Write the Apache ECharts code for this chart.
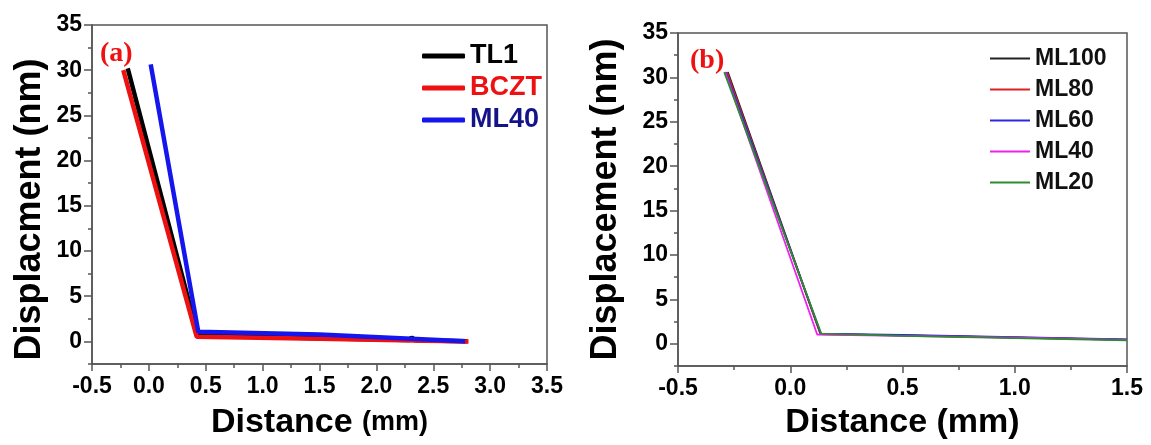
<!DOCTYPE html>
<html>
<head>
<meta charset="utf-8">
</head>
<body style="margin: 0; background: #fff">
<div id="container" style="width: 1151px; height: 445px"></div>
<script src="https://cdn.jsdelivr.net/npm/echarts@6/dist/echarts.min.js"></script>
<script>
// panel (a): distance (mm), displacement (nm)
const tl1 = [[-0.186, 30.2], [0.43, 0.65], [1.5, 0.35], [2.29, 0.15], [2.31, 0.45], [2.34, 0.12], [2.8, 0.02]];
const bczt = [[-0.225, 30.0], [0.42, 0.52], [1.5, 0.3], [2.81, 0.0]];
const ml40a = [[0.016, 30.65], [0.434, 1.07], [1.5, 0.75], [2.78, 0.03]];

// panel (b)
const ml100 = [[-0.278, 30.6], [0.135, 1.1], [0.5, 0.95], [1.0, 0.7], [1.5, 0.45]];
const ml80 = [[-0.282, 30.6], [0.134, 1.1], [0.5, 0.95], [1.0, 0.72], [1.5, 0.47]];
const ml60 = [[-0.287, 30.6], [0.136, 1.15], [0.5, 1.0], [1.0, 0.75], [1.5, 0.5]];
const ml40b = [[-0.29, 30.6], [0.12, 1.05], [0.5, 0.9], [1.0, 0.7], [1.5, 0.45]];
const ml20 = [[-0.294, 30.6], [0.138, 1.15], [0.5, 0.9], [1.0, 0.65], [1.5, 0.4]];

const yTicks = [0, 5, 10, 15, 20, 25, 30, 35];
const yMinorTicks = [-2.5, 2.5, 7.5, 12.5, 17.5, 22.5, 27.5, 32.5];

const axisColor = '#555';
const font = "'Liberation Sans', Arial, sans-serif";

var chartDom = document.getElementById('container');
var myChart = echarts.init(chartDom, null, { renderer: 'canvas' });

function xAxisOf(grid, max, gap, name, rich) {
	return {
		type: 'value', gridIndex: grid, min: -0.5, max: max, interval: 0.5,
		name: name, nameLocation: 'middle', nameGap: gap,
		nameTextStyle: { fontFamily: font, fontWeight: 'bold', fontSize: 34, color: '#000', rich: rich },
		axisLine: { onZero: false, lineStyle: { color: axisColor, width: 1.5 } },
		axisTick: { inside: false, length: 7, lineStyle: { color: axisColor, width: 1.5 } },
		minorTick: { show: true, splitNumber: 2, length: 4, lineStyle: { color: axisColor, width: 1.5 } },
		splitLine: { show: false },
		axisLabel: {
			margin: 11, fontFamily: font, fontWeight: 'bold', fontSize: 23, color: '#000',
			formatter: v => v.toFixed(1)
		}
	};
}

function yAxesOf(grid, gap, name, pad) {
	return [{
		type: 'value', gridIndex: grid, min: -2.5, max: 35, position: 'left',
		name: name, nameLocation: 'middle', nameGap: gap, nameRotate: 90,
		nameTextStyle: { fontFamily: font, fontWeight: 'bold', fontSize: 36, color: '#000', padding: pad },
		axisLine: { onZero: false, lineStyle: { color: axisColor, width: 1.5 } },
		axisTick: { length: 8, customValues: yTicks, lineStyle: { color: axisColor, width: 1.5 } },
		splitLine: { show: false },
		axisLabel: {
			margin: 10, fontFamily: font, fontWeight: 'bold', fontSize: 23, color: '#000',
			customValues: yTicks
		}
	}, {
		type: 'value', gridIndex: grid, min: -2.5, max: 35, position: 'left',
		axisLine: { show: false, onZero: false },
		axisTick: { length: 4, customValues: yMinorTicks, lineStyle: { color: axisColor, width: 1.5 } },
		axisLabel: { show: false },
		splitLine: { show: false }
	}];
}

function lineOf(name, data, color, width, x, y) {
	return {
		name: name, type: 'line', data: data, xAxisIndex: x, yAxisIndex: y,
		symbol: 'none', animation: false,
		lineStyle: { color: color, width: width },
		itemStyle: { color: color }
	};
}

var option = {
	backgroundColor: '#fff',
	animation: false,
	title: [{
		text: '(a)', left: 100, top: 40, padding: 0,
		textStyle: { fontFamily: "'Liberation Serif', serif", fontWeight: 'bold', fontSize: 28, color: '#ee1111' }
	}, {
		text: '(b)', left: 690, top: 47, padding: 0,
		textStyle: { fontFamily: "'Liberation Serif', serif", fontWeight: 'bold', fontSize: 28, color: '#ee1111' }
	}],
	grid: [
		{ left: 92, top: 25, width: 455, height: 339, show: true, borderColor: axisColor, borderWidth: 1.5 },
		{ left: 678, top: 33, width: 449, height: 335, show: true, borderColor: axisColor, borderWidth: 1.5 }
	],
	xAxis: [
		xAxisOf(0, 3.5, 42, 'Distance {s|(mm)}', { s: { fontFamily: font, fontWeight: 'bold', fontSize: 27, color: '#000' } }),
		xAxisOf(1, 1.5, 40, 'Distance (mm)', undefined)
	],
	yAxis: yAxesOf(0, 44, 'Displacment (nm)', [0, 30, 0, 0]).concat(yAxesOf(1, 54, 'Displacement (nm)', 0)),
	legend: [{
		orient: 'vertical', left: 417, top: 37, itemWidth: 43, itemHeight: 5, itemGap: 4,
		icon: 'roundRect',
		data: [
			{ name: 'TL1', textStyle: { color: '#000' } },
			{ name: 'BCZT', textStyle: { color: '#ee1111' } },
			{ name: 'ML40', textStyle: { color: '#141488' } }
		],
		textStyle: { fontFamily: font, fontWeight: 'bold', fontSize: 27, lineHeight: 28 }
	}, {
		orient: 'vertical', left: 985, top: 42, itemWidth: 40, itemHeight: 2, itemGap: 8,
		icon: 'rect',
		data: ['ML100', 'ML80', 'ML60', 'ML40 ', 'ML20'],
		formatter: n => n.trim(),
		textStyle: { fontFamily: font, fontWeight: 'bold', fontSize: 23, lineHeight: 23, color: '#111' }
	}],
	series: [
		lineOf('TL1', tl1, '#000000', 4.5, 0, 0),
		lineOf('BCZT', bczt, '#ee1111', 4.5, 0, 0),
		lineOf('ML40', ml40a, '#1515ee', 4.5, 0, 0),
		lineOf('ML100', ml100, '#222222', 1.8, 1, 2),
		lineOf('ML80', ml80, '#dd2222', 1.8, 1, 2),
		lineOf('ML60', ml60, '#2a2add', 1.8, 1, 2),
		lineOf('ML40 ', ml40b, '#ee22ee', 1.8, 1, 2),
		lineOf('ML20', ml20, '#2e8b2e', 1.8, 1, 2)
	]
};

option && myChart.setOption(option);
</script>
</body>
</html>
